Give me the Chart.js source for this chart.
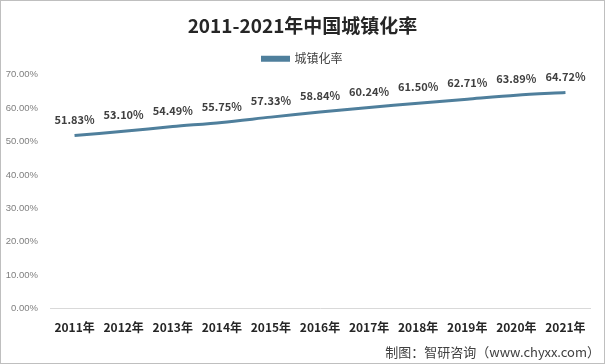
<!DOCTYPE html>
<html>
<head>
<meta charset="utf-8">
<script src="https://cdn.jsdelivr.net/npm/chart.js@4"></script>
<style>
  html, body { margin: 0; padding: 0; background: #fff; }
  #wrap { width: 605px; height: 364px; }
</style>
</head>
<body>
<div id="wrap"><canvas id="chart"></canvas></div>
<script>
// 数据
const years = ["2011年", "2012年", "2013年", "2014年", "2015年", "2016年", "2017年", "2018年", "2019年", "2020年", "2021年"];
const urbanRate = [51.83, 53.10, 54.49, 55.75, 57.33, 58.84, 60.24, 61.50, 62.71, 63.89, 64.72];
const chartTitle = "2011-2021年中国城镇化率";
const seriesName = "城镇化率";
const sourceText = "制图：智研咨询（www.chyxx.com）";

const FONT = "'Noto Sans CJK SC', 'Noto Sans', sans-serif";
const LINE_COLOR = "#4f7f9c";

// 边框 + 数据标签 + 来源
const decor = {
  id: "decor",
  beforeDraw(chart) {
    const ctx = chart.ctx;
    ctx.save();
    ctx.fillStyle = "#fff";
    ctx.fillRect(0, 0, chart.width, chart.height);
    ctx.restore();
  },
  afterDatasetsDraw(chart) {
    const ctx = chart.ctx;
    const meta = chart.getDatasetMeta(0);
    ctx.save();
    ctx.font = "bold 11px " + FONT;
    ctx.fillStyle = "#404040";
    ctx.textAlign = "center";
    ctx.textBaseline = "middle";
    meta.data.forEach((pt, i) => {
      ctx.fillText(urbanRate[i].toFixed(2) + "%", pt.x, pt.y - 16);
    });
    ctx.restore();
  },
  afterDraw(chart) {
    const ctx = chart.ctx;
    ctx.save();
    ctx.font = "13px " + FONT;
    ctx.fillStyle = "#404040";
    ctx.textAlign = "right";
    ctx.textBaseline = "middle";
    ctx.fillText(sourceText, chart.width - 5, 352);
    ctx.strokeStyle = "#bfbfbf";
    ctx.lineWidth = 1;
    ctx.strokeRect(0.5, 0.5, chart.width - 1, chart.height - 1);
    ctx.restore();
  }
};

new Chart(document.getElementById("chart"), {
  type: "line",
  data: {
    labels: years,
    datasets: [{
      label: seriesName,
      data: urbanRate,
      borderColor: LINE_COLOR,
      backgroundColor: LINE_COLOR,
      borderWidth: 3,
      pointRadius: 0,
      tension: 0.3,
      fill: false
    }]
  },
  options: {
    responsive: true,
    maintainAspectRatio: false,
    animation: false,
    layout: { padding: { left: 0, right: 0, top: 0, bottom: 25 } },
    plugins: {
      title: {
        display: true,
        text: chartTitle,
        color: "#262626",
        font: { family: FONT, size: 19, weight: "bold" },
        padding: { top: 14, bottom: 6 }
      },
      legend: {
        display: true,
        labels: {
          color: "#404040",
          font: { family: FONT, size: 12 },
          boxWidth: 26,
          boxHeight: 3,
          padding: 10
        }
      },
      tooltip: { enabled: false }
    },
    scales: {
      x: {
        offset: true,
        grid: { display: false },
        border: { display: true, color: "#d9d9d9", width: 1 },
        ticks: {
          color: "#262626",
          font: { family: FONT, size: 12, weight: "bold" },
          padding: 4,
          maxRotation: 0,
          autoSkip: false
        },
        afterFit(scale) { scale.paddingRight = 15; }
      },
      y: {
        min: 0,
        max: 70,
        grid: { display: false },
        border: { display: false },
        ticks: {
          stepSize: 10,
          color: "#7f7f7f",
          font: { family: "'Liberation Sans', sans-serif", size: 9.5 },
          padding: 4,
          callback: (v) => v.toFixed(2) + "%"
        },
        afterFit(scale) { scale.width = 50; }
      }
    }
  },
  plugins: [decor]
});
</script>
</body>
</html>
